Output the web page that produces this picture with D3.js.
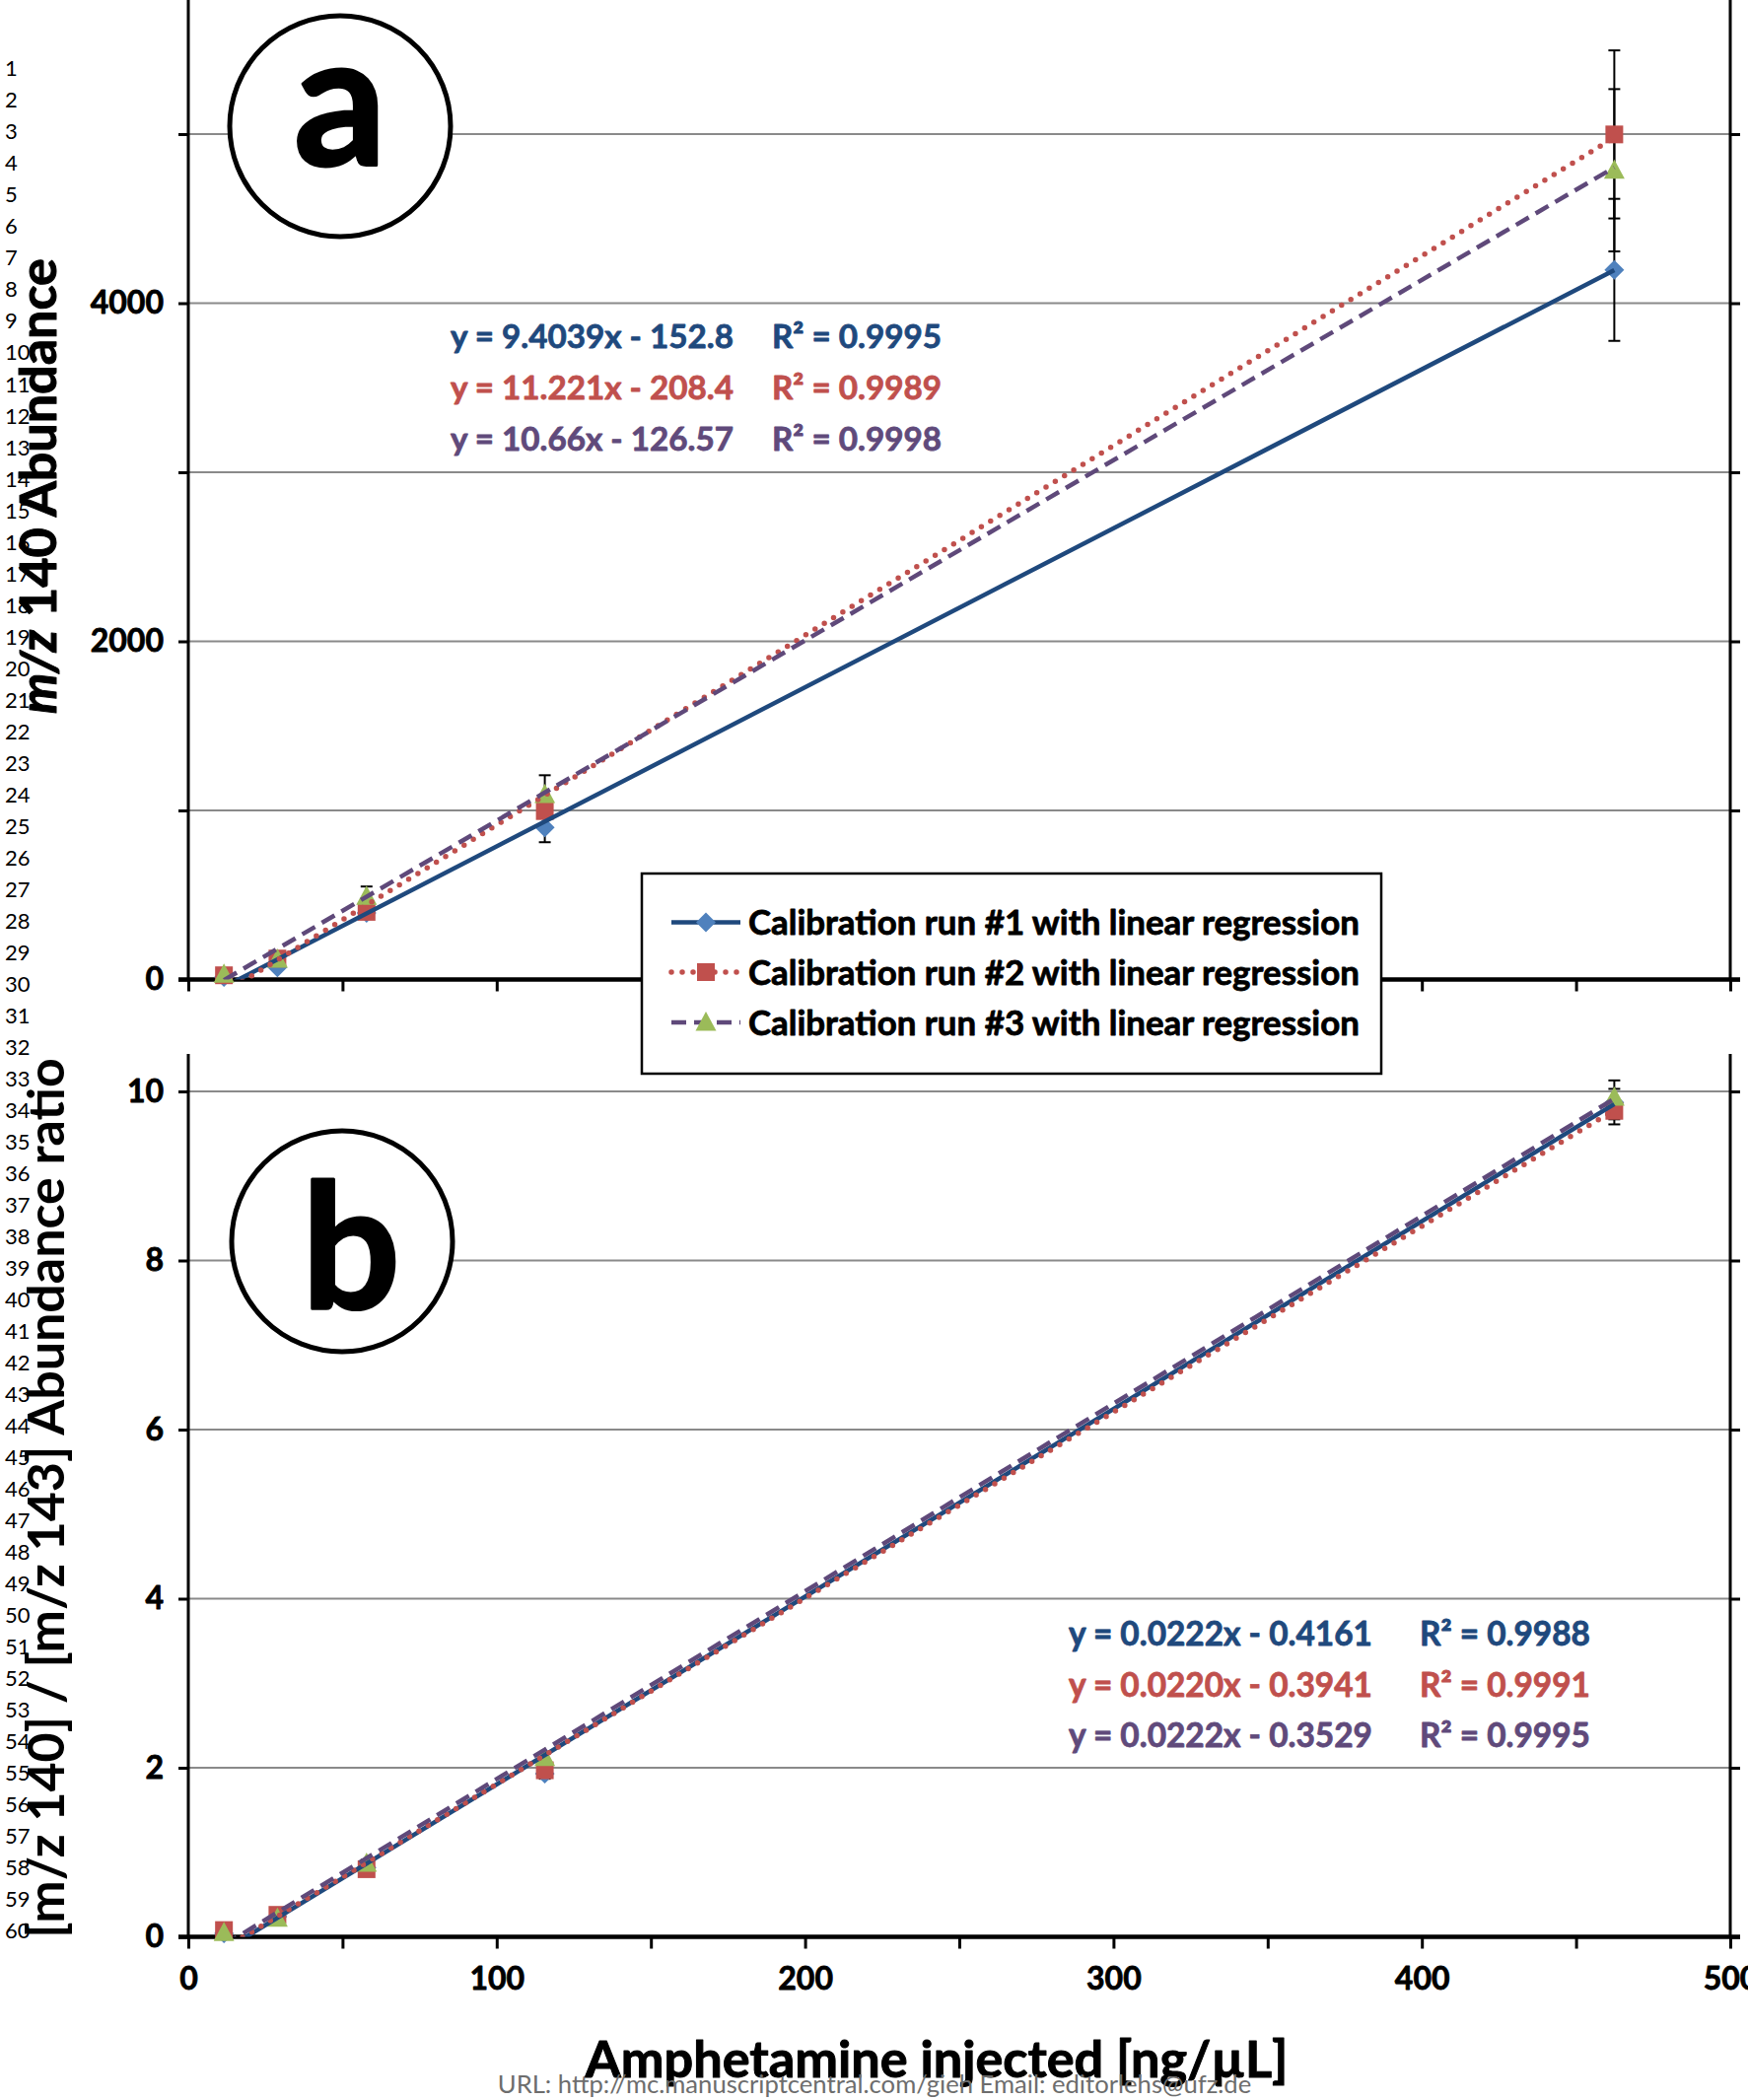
<!DOCTYPE html>
<html><head><meta charset="utf-8">
<script src="https://cdn.jsdelivr.net/npm/d3@7"></script>
<style>
html,body{margin:0;padding:0;background:#fff;}
svg{display:block;}
text{font-family:Lato,"Liberation Sans",sans-serif;}
</style></head><body>
<svg id="chart" width="1773" height="2130"></svg>
<script>
// ---------------- DATA ----------------
const concentrations = [11.56, 28.9, 57.8, 115.6, 462.4];
const seriesNames = [
  "Calibration run #1 with linear regression",
  "Calibration run #2 with linear regression",
  "Calibration run #3 with linear regression"
];
// panel a : m/z 140 abundance
const abundanceRun1 = [15, 72, 394, 899, 4197];
const abundanceRun2 = [25, 124, 400, 996, 4998];
const abundanceRun3 = [30, 120, 491, 1093, 4786];
const abundanceErr1 = [5, 10, 20, 87, 420];
const abundanceErr2 = [5, 10, 20, 40, 497];
const abundanceErr3 = [5, 10, 59, 115, 480];
const slopesA = [9.4039, 11.221, 10.66];
const interceptsA = [-152.8, -208.4, -126.57];
const equationLabelsA = ["y = 9.4039x - 152.8", "y = 11.221x - 208.4", "y = 10.66x - 126.57"];
const rSquaredLabelsA = ["R\u00B2 = 0.9995", "R\u00B2 = 0.9989", "R\u00B2 = 0.9998"];
// panel b : abundance ratio
const ratioRun1 = [0.04, 0.24, 0.82, 1.93, 9.87];
const ratioRun2 = [0.08, 0.26, 0.80, 1.97, 9.77];
const ratioRun3 = [0.05, 0.22, 0.87, 2.12, 9.93];
const ratioErr1 = [0.01, 0.02, 0.04, 0.06, 0.26];
const ratioErr2 = [0.01, 0.02, 0.04, 0.06, 0.10];
const ratioErr3 = [0.01, 0.02, 0.04, 0.06, 0.10];
const slopesB = [0.0222, 0.0220, 0.0222];
const interceptsB = [-0.4161, -0.3941, -0.3529];
const equationLabelsB = ["y = 0.0222x - 0.4161", "y = 0.0220x - 0.3941", "y = 0.0222x - 0.3529"];
const rSquaredLabelsB = ["R\u00B2 = 0.9988", "R\u00B2 = 0.9991", "R\u00B2 = 0.9995"];
// axes
const xTicks = [0, 50, 100, 150, 200, 250, 300, 350, 400, 450, 500];
const xTickLabels = [0, 100, 200, 300, 400, 500];
const yTicksA = [0, 1000, 2000, 3000, 4000, 5000];
const yTickLabelsA = [0, 2000, 4000];
const yTicksB = [0, 2, 4, 6, 8, 10];
const yTickLabelsB = [0, 2, 4, 6, 8, 10];
const lineNumbers = d3.range(1, 61);
const xTitle = "Amphetamine injected [ng/\u00B5L]";
const footerText = "URL: http://mc.manuscriptcentral.com/gieh Email: editorlehs@ufz.de";

// ---------------- STYLE / LAYOUT ----------------
const lineColors = ["#1F497D", "#C0504D", "#5F497A"];
const markerColors = ["#4F81BD", "#C0504D", "#9BBB59"];
const eqColors = ["#1F497D", "#C0504D", "#604A7B"];
const dashes = [null, "0 11", "15 8"];
const caps = ["butt", "round", "butt"];
const widths = [4.5, 5.5, 4.5];
const markerPaths = [
  "M0,-10L10,0L0,10L-10,0Z",
  "M-9,-9H9V9H-9Z",
  "M0,-11L10.5,8.5L-10.5,8.5Z"
];

const svg = d3.select("#chart");
const x = d3.scaleLinear().domain([0, 500]).range([191, 1755]);
const yA = d3.scaleLinear().domain([0, 5000]).range([993.5, 136]);
const yB = d3.scaleLinear().domain([0, 10]).range([1964.5, 1107]);

function fitWidth(sel, target) {
  const w = sel.node().getComputedTextLength();
  const fs = parseFloat(sel.attr("font-size"));
  const nfs = fs * target / w;
  sel.attr("font-size", nfs);
  return nfs;
}
function heavy(sel, color, w) {
  sel.attr("stroke", color).attr("stroke-width", w).attr("stroke-linejoin", "round");
}

// line numbers
const lineY = d3.scaleLinear().domain([1, 60]).range([69.5, 1958]);
svg.append("g").selectAll("text").data(lineNumbers).join("text")
  .attr("x", 5).attr("y", d => lineY(d)).attr("dy", "0.36em")
  .attr("font-size", 22).attr("fill", "#000").text(d => d);

function drawPanel(p) {
  const g = svg.append("g");
  const y = p.y;
  const top = p.top;
  // gridlines
  g.append("g").selectAll("line").data(p.yTicks.filter(d => d > 0)).join("line")
    .attr("x1", x(0)).attr("x2", x(500)).attr("y1", d => y(d)).attr("y2", d => y(d))
    .attr("stroke", "#8a8a8a").attr("stroke-width", 2);
  // left axis ticks
  const ax = d3.axisLeft(y).tickValues(p.yTicks).tickSize(10).tickSizeOuter(0).tickPadding(15)
    .tickFormat(d => p.yLabels.includes(d) ? d : "");
  const ga = g.append("g").attr("transform", `translate(${x(0)},0)`).call(ax);
  ga.select(".domain").remove();
  ga.selectAll(".tick line").attr("stroke", "#000").attr("stroke-width", 3);
  ga.selectAll(".tick text").attr("font-size", 32).attr("font-weight", "bold")
    .attr("font-family", "Lato").attr("fill", "#000").call(heavy, "#000", 0.8);
  // right ticks
  const ar = d3.axisRight(y).tickValues(p.yTicks).tickSize(10).tickSizeOuter(0).tickFormat("");
  const gr = g.append("g").attr("transform", `translate(${x(500)},0)`).call(ar);
  gr.select(".domain").remove();
  gr.selectAll(".tick line").attr("stroke", "#000").attr("stroke-width", 3);
  // vertical axis lines
  g.append("line").attr("x1", x(0)).attr("x2", x(0)).attr("y1", top).attr("y2", y(0))
    .attr("stroke", "#000").attr("stroke-width", 3);
  g.append("line").attr("x1", x(500)).attr("x2", x(500)).attr("y1", top).attr("y2", y(0))
    .attr("stroke", "#000").attr("stroke-width", 3);
  // bottom axis
  const bx = d3.axisBottom(x).tickValues(xTicks).tickSize(12).tickSizeOuter(0).tickPadding(19)
    .tickFormat(d => p.xLabels && xTickLabels.includes(d) ? d : "");
  const gb = g.append("g").attr("transform", `translate(0,${y(0)})`).call(bx);
  gb.select(".domain").remove();
  gb.selectAll(".tick line").attr("stroke", "#000").attr("stroke-width", 3);
  gb.selectAll(".tick text").attr("font-size", 32).attr("font-weight", "bold")
    .attr("font-family", "Lato").attr("fill", "#000").call(heavy, "#000", 0.8);
  g.append("line").attr("x1", x(0) - 10).attr("x2", x(500) + 10).attr("y1", y(0)).attr("y2", y(0))
    .attr("stroke", "#000").attr("stroke-width", 4.5);

  // clip
  const clipId = "clip" + p.id;
  svg.append("clipPath").attr("id", clipId).append("rect")
    .attr("x", x(0)).attr("y", top).attr("width", x(500) - x(0)).attr("height", y(0) - top);

  // error bars
  const eg = g.append("g");
  p.values.forEach((vals, i) => {
    vals.forEach((v, j) => {
      const e = p.errs[i][j];
      const cx = x(concentrations[j]);
      eg.append("line").attr("x1", cx).attr("x2", cx).attr("y1", y(v - e)).attr("y2", y(v + e))
        .attr("stroke", "#000").attr("stroke-width", 2);
      [v - e, v + e].forEach(t => {
        eg.append("line").attr("x1", cx - 6).attr("x2", cx + 6).attr("y1", y(t)).attr("y2", y(t))
          .attr("stroke", "#000").attr("stroke-width", 2);
      });
    });
  });
  // markers
  p.values.forEach((vals, i) => {
    g.append("g").selectAll("path").data(vals).join("path")
      .attr("d", markerPaths[i])
      .attr("transform", (d, j) => `translate(${x(concentrations[j])},${y(d)})`)
      .attr("fill", markerColors[i]);
  });
  // trendlines
  const line = d3.line().x(d => x(d[0])).y(d => y(d[1]));
  const x0 = concentrations[0], x1 = concentrations[concentrations.length - 1];
  p.slopes.forEach((s, i) => {
    const pts = [[x0, s * x0 + p.intercepts[i]], [x1, s * x1 + p.intercepts[i]]];
    g.append("path").attr("d", line(pts)).attr("clip-path", `url(#${clipId})`)
      .attr("fill", "none").attr("stroke", lineColors[i]).attr("stroke-width", widths[i])
      .attr("stroke-linecap", caps[i]).attr("stroke-dasharray", dashes[i]);
  });
  // equations
  const eqT = p.eqLabels.map((t, i) => g.append("text").attr("x", p.eqX).attr("y", p.eqY[i])
    .attr("font-size", 32).attr("font-weight", "bold").attr("fill", eqColors[i]).text(t));
  const fs = fitWidth(eqT[0], p.eqW);
  eqT.forEach((t, i) => t.attr("font-size", fs).call(heavy, eqColors[i], 0.8));
  p.r2Labels.forEach((t, i) => g.append("text").attr("x", p.r2X).attr("y", p.eqY[i])
    .attr("font-size", fs).attr("font-weight", "bold").attr("fill", eqColors[i]).text(t)
    .call(heavy, eqColors[i], 0.8));
  // panel letter
  g.append("circle").attr("cx", p.circle[0]).attr("cy", p.circle[1]).attr("r", 112)
    .attr("fill", "#fff").attr("stroke", "#000").attr("stroke-width", 5);
  g.append("text").attr("x", p.circle[0] + p.letterDx).attr("y", p.letterY).attr("text-anchor", "middle")
    .attr("font-size", p.letterSize).attr("font-weight", "bold").attr("fill", "#000").text(p.letter)
    .call(heavy, "#000", 3);
}

drawPanel({
  id: "A", y: yA, top: 0, yTicks: yTicksA, yLabels: yTickLabelsA, xLabels: false,
  values: [abundanceRun1, abundanceRun2, abundanceRun3],
  errs: [abundanceErr1, abundanceErr2, abundanceErr3],
  slopes: slopesA, intercepts: interceptsA,
  eqLabels: equationLabelsA, r2Labels: rSquaredLabelsA,
  eqX: 457, r2X: 783, eqY: [353, 405, 456.5], eqW: 287,
  circle: [345, 128], letter: "a", letterDx: 0, letterY: 168, letterSize: 185
});
drawPanel({
  id: "B", y: yB, top: 1069, yTicks: yTicksB, yLabels: yTickLabelsB, xLabels: true,
  values: [ratioRun1, ratioRun2, ratioRun3],
  errs: [ratioErr1, ratioErr2, ratioErr3],
  slopes: slopesB, intercepts: interceptsB,
  eqLabels: equationLabelsB, r2Labels: rSquaredLabelsB,
  eqX: 1084, r2X: 1440, eqY: [1669, 1721, 1772], eqW: 308,
  circle: [347, 1259], letter: "b", letterDx: 9, letterY: 1327, letterSize: 176
});

// axis titles
const tA = svg.append("text").attr("transform", "translate(57,493) rotate(-90)")
  .attr("text-anchor", "middle").attr("font-size", 48).attr("font-weight", "bold").attr("fill", "#000");
tA.append("tspan").attr("font-style", "italic").text("m/z");
tA.append("tspan").text(" 140 Abundance");
fitWidth(tA, 462);
heavy(tA, "#000", 1);
const tB = svg.append("text").attr("transform", "translate(65,1519.5) rotate(-90)")
  .attr("text-anchor", "middle").attr("font-size", 48).attr("font-weight", "bold").attr("fill", "#000")
  .text("[m/z 140] / [m/z 143] Abundance ratio");
fitWidth(tB, 893);
const tX = svg.append("text").attr("x", 950).attr("y", 2107).attr("text-anchor", "middle")
  .attr("font-size", 50).attr("font-weight", "bold").attr("fill", "#000").text(xTitle);
fitWidth(tX, 713);
heavy(tX, "#000", 1);
const tU = svg.append("text").attr("x", 887).attr("y", 2123).attr("text-anchor", "middle")
  .attr("font-size", 24).attr("fill", "#6d6d6d").text(footerText);
fitWidth(tU, 765);

// legend
const lg = svg.append("g");
lg.append("rect").attr("x", 651).attr("y", 886).attr("width", 750).attr("height", 203)
  .attr("fill", "#fff").attr("stroke", "#000").attr("stroke-width", 2.5);
const legY = [935.5, 986, 1037];
let lfs = null;
seriesNames.forEach((n, i) => {
  lg.append("line").attr("x1", 681).attr("x2", 751).attr("y1", legY[i]).attr("y2", legY[i])
    .attr("stroke", lineColors[i]).attr("stroke-width", widths[i])
    .attr("stroke-linecap", caps[i]).attr("stroke-dasharray", dashes[i]);
  lg.append("path").attr("d", markerPaths[i]).attr("transform", `translate(716,${legY[i]})`)
    .attr("fill", markerColors[i]);
  const t = lg.append("text").attr("x", 759).attr("y", legY[i]).attr("dy", "0.36em")
    .attr("font-size", 34).attr("font-weight", "bold").attr("fill", "#000").text(n);
  if (lfs === null) lfs = fitWidth(t, 620); else t.attr("font-size", lfs);
  heavy(t, "#000", 0.8);
});
</script>
</body></html>
